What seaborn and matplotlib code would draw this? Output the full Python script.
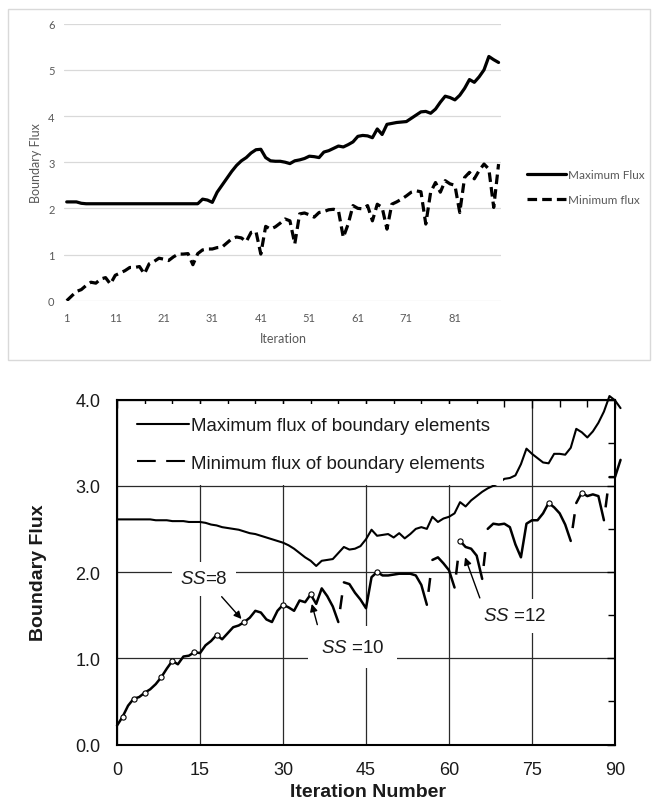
import numpy as np
import pandas as pd
import matplotlib
matplotlib.use("Agg")
import matplotlib.pyplot as plt
import seaborn as sns
from matplotlib.lines import Line2D
from matplotlib.patches import Rectangle

sns.set_theme(style="white")
plt.rcParams['font.family'] = ['Liberation Sans', 'DejaVu Sans']
plt.rcParams['mathtext.fontset'] = 'custom'
plt.rcParams['mathtext.rm'] = 'Liberation Sans'
plt.rcParams['mathtext.it'] = 'Liberation Sans:italic'

# ---------------- top chart data ----------------
top_iter = list(range(1, 91))
top_max = [2.14, 2.14, 2.14, 2.11, 2.10, 2.10, 2.10, 2.10, 2.10, 2.10,
           2.10, 2.10, 2.10, 2.10, 2.10, 2.10, 2.10, 2.10, 2.10, 2.10,
           2.10, 2.10, 2.10, 2.10, 2.10, 2.10, 2.10, 2.10, 2.20, 2.18,
           2.13, 2.35, 2.50, 2.65, 2.80, 2.93, 3.03, 3.10, 3.20, 3.27,
           3.28, 3.10, 3.03, 3.02, 3.02, 3.00, 2.97, 3.03, 3.05, 3.08,
           3.13, 3.12, 3.10, 3.22, 3.25, 3.30, 3.35, 3.33, 3.38, 3.44,
           3.56, 3.58, 3.57, 3.53, 3.72, 3.60, 3.82, 3.84, 3.86, 3.87,
           3.88, 3.95, 4.02, 4.09, 4.10, 4.06, 4.15, 4.30, 4.43, 4.40,
           4.35, 4.45, 4.60, 4.79, 4.73, 4.85, 5.00, 5.29, 5.22, 5.16]
top_min = [0.00, 0.10, 0.20, 0.24, 0.33, 0.40, 0.38, 0.47, 0.50, 0.36,
           0.55, 0.60, 0.65, 0.72, 0.72, 0.74, 0.58, 0.80, 0.85, 0.92,
           0.90, 0.87, 0.95, 1.01, 1.01, 1.02, 0.78, 1.02, 1.10, 1.12,
           1.12, 1.15, 1.16, 1.25, 1.34, 1.38, 1.36, 1.28, 1.48, 1.50,
           1.01, 1.61, 1.55, 1.60, 1.68, 1.77, 1.73, 1.23, 1.88, 1.90,
           1.86, 1.81, 1.91, 1.93, 1.97, 1.98, 1.95, 1.37, 1.66, 2.06,
           2.00, 1.99, 2.06, 1.73, 2.09, 2.02, 1.55, 2.09, 2.14, 2.20,
           2.27, 2.35, 2.38, 2.36, 1.66, 2.35, 2.56, 2.35, 2.60, 2.53,
           2.50, 1.91, 2.67, 2.78, 2.64, 2.82, 2.96, 2.85, 2.02, 2.96]
top_xticks = [1, 11, 21, 31, 41, 51, 61, 71, 81]
top_yticks = [0, 1, 2, 3, 4, 5, 6]
top_labels = ["Maximum Flux", "Minimum flux"]

# ---------------- bottom chart data ----------------
bot_iter = list(range(0, 92))
bot_max = [2.61, 2.61, 2.61, 2.61, 2.61, 2.61, 2.61, 2.60, 2.60, 2.60,
           2.59, 2.59, 2.59, 2.58, 2.58, 2.58, 2.57, 2.55, 2.54, 2.52,
           2.51, 2.50, 2.49, 2.47, 2.45, 2.44, 2.42, 2.40, 2.38, 2.36,
           2.34, 2.31, 2.27, 2.22, 2.17, 2.13, 2.07, 2.13, 2.14, 2.15,
           2.22, 2.29, 2.26, 2.27, 2.30, 2.38, 2.49, 2.42, 2.43, 2.44,
           2.40, 2.45, 2.39, 2.44, 2.50, 2.52, 2.50, 2.64, 2.58, 2.62,
           2.64, 2.68, 2.81, 2.76, 2.83, 2.88, 2.93, 2.97, 3.00, 3.03,
           3.08, 3.09, 3.12, 3.25, 3.43, 3.37, 3.32, 3.27, 3.26, 3.37,
           3.37, 3.36, 3.44, 3.66, 3.62, 3.56, 3.63, 3.73, 3.86, 4.04,
           3.99, 3.90]
bot_min = [0.22, 0.32, 0.45, 0.53, 0.55, 0.60, 0.64, 0.70, 0.78, 0.88,
           0.97, 0.93, 1.02, 1.03, 1.07, 1.06, 1.15, 1.20, 1.27, 1.22,
           1.29, 1.36, 1.38, 1.42, 1.47, 1.55, 1.53, 1.45, 1.42, 1.55,
           1.62, 1.59, 1.55, 1.67, 1.65, 1.74, 1.63, 1.81, 1.72, 1.60,
           1.42, 1.88, 1.86, 1.76, 1.68, 1.58, 1.94, 2.00, 1.96, 1.96,
           1.97, 1.98, 1.98, 1.98, 1.96, 1.85, 1.62, 2.14, 2.17, 2.10,
           2.02, 1.82, 2.36, 2.29, 2.27, 2.19, 1.92, 2.50, 2.56, 2.55,
           2.56, 2.52, 2.32, 2.17, 2.56, 2.60, 2.60, 2.68, 2.80, 2.75,
           2.68, 2.55, 2.36, 2.80, 2.92, 2.88, 2.90, 2.88, 2.60, 3.10,
           3.10, 3.30]
bot_min_breaks = [40.5, 56.5, 61.5, 66.5, 82.5, 88.5]
circle_iters = [1, 3, 5, 8, 10, 14, 18, 23, 30, 35, 47, 62, 78, 84]
bot_xticks = [0, 15, 30, 45, 60, 75, 90]
bot_yticks = [0.0, 1.0, 2.0, 3.0, 4.0]
bot_labels = ["Maximum flux of boundary elements",
              "Minimum flux of boundary elements"]

W, H = 652, 804
fig = plt.figure(figsize=(W / 100, H / 100), dpi=100)

# ================= TOP CHART =================
top_font = ['Lato', 'DejaVu Sans']
grey_txt = '#595959'
ax1 = fig.add_axes([64.3 / W, 1 - 301.7 / H, (501 - 64.3) / W, 277 / H])
df_top = pd.DataFrame({'Iteration': top_iter, 'Max': top_max, 'Min': top_min})
sns.lineplot(data=df_top, x='Iteration', y='Max', ax=ax1, color='black',
             lw=2.3, legend=False)
sns.lineplot(data=df_top, x='Iteration', y='Min', ax=ax1, color='black',
             lw=2.3, linestyle=(0, (3.0, 1.6)), legend=False)
ax1.set_xlim(0.5, 90.5)
ax1.set_ylim(0, 6)
ax1.set_xticks(top_xticks)
ax1.set_xticklabels([str(t) for t in top_xticks], family=top_font,
                    fontsize=8, color=grey_txt)
ax1.set_yticks(top_yticks)
ax1.set_yticklabels([str(t) for t in top_yticks], family=top_font,
                    fontsize=8, color=grey_txt)
ax1.tick_params(axis='x', length=0, pad=8)
ax1.tick_params(axis='y', length=0, pad=7)
ax1.yaxis.grid(True, color='#d9d9d9', lw=0.9)
ax1.xaxis.grid(False)
for s in ax1.spines.values():
    s.set_visible(False)
ax1.set_xlabel('Iteration', family=top_font, fontsize=9, color=grey_txt)
ax1.set_ylabel('Boundary Flux', family=top_font, fontsize=9, color=grey_txt)
ax1.xaxis.label.set_verticalalignment('center')
ax1.yaxis.label.set_verticalalignment('center')
ax1.xaxis.set_label_coords(0.5008, -0.1347)
ax1.yaxis.set_label_coords((36 - 64.3) / 436.7, 0.5)
h_top = [Line2D([], [], color='black', lw=2.3),
         Line2D([], [], color='black', lw=2.3, linestyle=(0, (3.0, 1.6)))]
leg1 = ax1.legend(h_top, top_labels, loc='center left',
                  bbox_to_anchor=(527 / W, 1 - 188 / H),
                  bbox_transform=fig.transFigure, frameon=False,
                  borderpad=0, borderaxespad=0, handlelength=3.3,
                  handletextpad=0.15, labelspacing=1.2,
                  prop={'family': top_font, 'size': 8.5})
for t in leg1.get_texts():
    t.set_color(grey_txt)

# frame around top chart
fig.patches.append(Rectangle((8 / W, 1 - 361 / H), 642 / W, 351 / H,
                             transform=fig.transFigure, fill=False,
                             edgecolor='#d9d9d9', lw=1.0))

# ================= BOTTOM CHART =================
txt_col = '#1a1a1a'
ax2 = fig.add_axes([117 / W, 1 - 745.5 / H, 498 / W, 345 / H])
df_bmax = pd.DataFrame({'Iteration': bot_iter, 'Flux': bot_max})
seg = np.searchsorted(bot_min_breaks, bot_iter)
df_bmin = pd.DataFrame({'Iteration': bot_iter, 'Flux': bot_min,
                        'segment': seg})
sns.lineplot(data=df_bmax, x='Iteration', y='Flux', ax=ax2, color='black',
             lw=1.5, legend=False)
sns.lineplot(data=df_bmin, x='Iteration', y='Flux', units='segment',
             estimator=None, ax=ax2, color='black', lw=1.8, legend=False)

# dashed connectors across the jumps of the minimum-flux curve
jump_rows = []
for k, b in enumerate(bot_min_breaks):
    i0 = int(np.floor(b))
    for i in (i0, i0 + 1):
        jump_rows.append({'Iteration': bot_iter[i],
                          'Flux': bot_min[bot_iter.index(i)], 'jump': k})
df_jump = pd.DataFrame(jump_rows)
sns.lineplot(data=df_jump, x='Iteration', y='Flux', units='jump',
             estimator=None, ax=ax2, color='black', lw=1.8,
             linestyle=(40.4, (5.6, 40.0)), legend=False)

for ln in ax2.lines:
    ln.set_clip_on(False)
    ln.set_zorder(3)
circ_y = [bot_min[bot_iter.index(i)] for i in circle_iters]
sns.scatterplot(x=circle_iters, y=circ_y, ax=ax2, marker='o', s=14,
                facecolor='white', edgecolor='black', linewidth=0.8,
                zorder=4, legend=False)

ax2.set_xlim(0, 90)
ax2.set_ylim(0, 4)
ax2.set_xticks(bot_xticks)
ax2.set_xticklabels([str(t) for t in bot_xticks], fontsize=13, color=txt_col)
ax2.set_yticks(bot_yticks)
ax2.set_yticklabels([f"{t:.1f}" for t in bot_yticks], fontsize=13,
                    color=txt_col)
ax2.set_xticks(np.arange(0, 91, 5), minor=True)
ax2.set_yticks(np.arange(0, 4.01, 0.5), minor=True)
ax2.tick_params(which='both', direction='in', top=True, right=True,
                color='black', width=1.0)
ax2.tick_params(which='major', length=6)
ax2.tick_params(which='minor', length=5)
ax2.tick_params(axis='x', which='major', pad=12)
ax2.tick_params(axis='y', which='major', pad=12)
ax2.grid(True, which='major', color='#2a2a2a', lw=0.9)
ax2.set_axisbelow(True)
for s in ax2.spines.values():
    s.set_visible(True)
    s.set_color('black')
    s.set_linewidth(1.5)
ax2.set_xlabel('Iteration Number', fontsize=14, fontweight='bold',
               color=txt_col)
ax2.set_ylabel('Boundary Flux', fontsize=14, fontweight='bold',
               color=txt_col)
ax2.xaxis.label.set_verticalalignment('center')
ax2.yaxis.label.set_verticalalignment('center')
ax2.xaxis.set_label_coords((368 - 117) / 498, (745.5 - 793) / 345)
ax2.yaxis.set_label_coords((38.5 - 117) / 498, 0.5)

h_bot = [Line2D([], [], color='black', lw=1.5),
         Line2D([], [], color='black', lw=1.5, linestyle=(0, (9, 5)))]
leg2 = ax2.legend(h_bot, bot_labels, loc='upper left',
                  bbox_to_anchor=(0.014, 0.987), frameon=True,
                  facecolor='white', edgecolor='none', fancybox=False,
                  framealpha=1.0, borderpad=0.7, borderaxespad=0,
                  handlelength=2.8, handletextpad=0.1, labelspacing=1.1,
                  fontsize=13.4)
leg2.set_zorder(5)
for t in leg2.get_texts():
    t.set_color(txt_col)

box = dict(facecolor='white', edgecolor='none', pad=6)
arrow = dict(arrowstyle='-|>', color='black', lw=1.0, shrinkA=1, shrinkB=0,
             mutation_scale=11)
ax2.annotate(r'$\mathit{SS}$=8', xy=(22.5, 1.455), xytext=(15.7, 1.92),
             ha='center', va='center', fontsize=13.5, color=txt_col,
             bbox=box, arrowprops=dict(arrow, relpos=(0.7, 0.0)), zorder=4)
ax2.annotate(r'$\mathit{SS}$ =10', xy=(35.2, 1.63), xytext=(42.6, 1.13),
             ha='center', va='center', fontsize=13.5, color=txt_col,
             bbox=dict(box, pad=9), arrowprops=dict(arrow, relpos=(0.0, 1.0)),
             zorder=4)
ax2.annotate(r'$\mathit{SS}$ =12', xy=(62.9, 2.17), xytext=(71.9, 1.49),
             ha='center', va='center', fontsize=13.5, color=txt_col,
             bbox=box, arrowprops=dict(arrow, relpos=(0.0, 1.0)), zorder=4)

fig.savefig('out.png', dpi=100)
